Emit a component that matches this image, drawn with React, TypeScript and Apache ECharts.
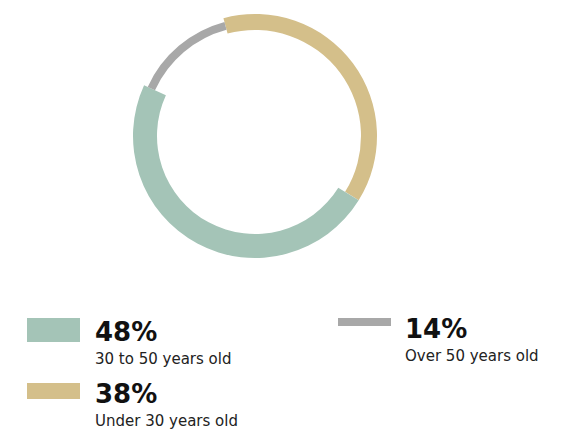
import React, { useEffect, useRef } from "react";
import * as echarts from "echarts";

// Data (clockwise order starting from the top)
const categories = ["Under 30 years old", "30 to 50 years old", "Over 50 years old"];
const values = [38, 48, 14];
const colors = ["#D4BF8A", "#A4C4B7", "#A8A8A8"];
// ring [inner, outer] radii per category (thickness encodes the category)
const ringRadii: [number, number][] = [
  [106, 122],
  [98, 122],
  [110, 118],
];
// legend placement per category: [swatchX, swatchY, swatchH, textX, pctY, labelY]
const legendLayout: number[][] = [
  [27, 383, 16, 95, 394, 421],
  [27, 318, 24, 95, 332, 359],
  [338, 318, 8, 405, 329, 356],
];

export default function App() {
  const ref = useRef<HTMLDivElement>(null);

  useEffect(() => {
    if (!ref.current) return;
    const chart = echarts.init(ref.current, undefined, { renderer: "svg" });

    const series = categories.map((_, si) => ({
      type: "pie" as const,
      silent: true,
      center: [255, 136],
      radius: ringRadii[si],
      startAngle: 105,
      clockwise: true,
      avoidLabelOverlap: false,
      label: { show: false },
      labelLine: { show: false },
      emphasis: { disabled: true },
      data: categories.map((name, i) => ({
        name,
        value: values[i],
        itemStyle: {
          color: i === si ? colors[i] : "transparent",
          borderWidth: 0,
        },
      })),
    }));

    const graphic: any[] = [];
    categories.forEach((name, i) => {
      const [sx, sy, sh, tx, py, ly] = legendLayout[i];
      graphic.push({
        type: "rect",
        shape: { x: sx, y: sy, width: 53, height: sh },
        style: { fill: colors[i] },
      });
      graphic.push({
        type: "text",
        x: tx,
        y: py,
        style: {
          text: `${values[i]}%`,
          fill: "#111111",
          font: "bold 26px 'DejaVu Sans'",
          verticalAlign: "middle",
          align: "left",
        },
      });
      graphic.push({
        type: "text",
        x: tx,
        y: ly,
        style: {
          text: name,
          fill: "#222222",
          font: "15px 'DejaVu Sans'",
          verticalAlign: "middle",
          align: "left",
        },
      });
    });

    chart.setOption({
      animation: false,
      backgroundColor: "#ffffff",
      series,
      graphic,
    });

    return () => chart.dispose();
  }, []);

  return (
    <div
      ref={ref}
      style={{ position: "fixed", left: 0, top: 0, width: 568, height: 431 }}
    />
  );
}
